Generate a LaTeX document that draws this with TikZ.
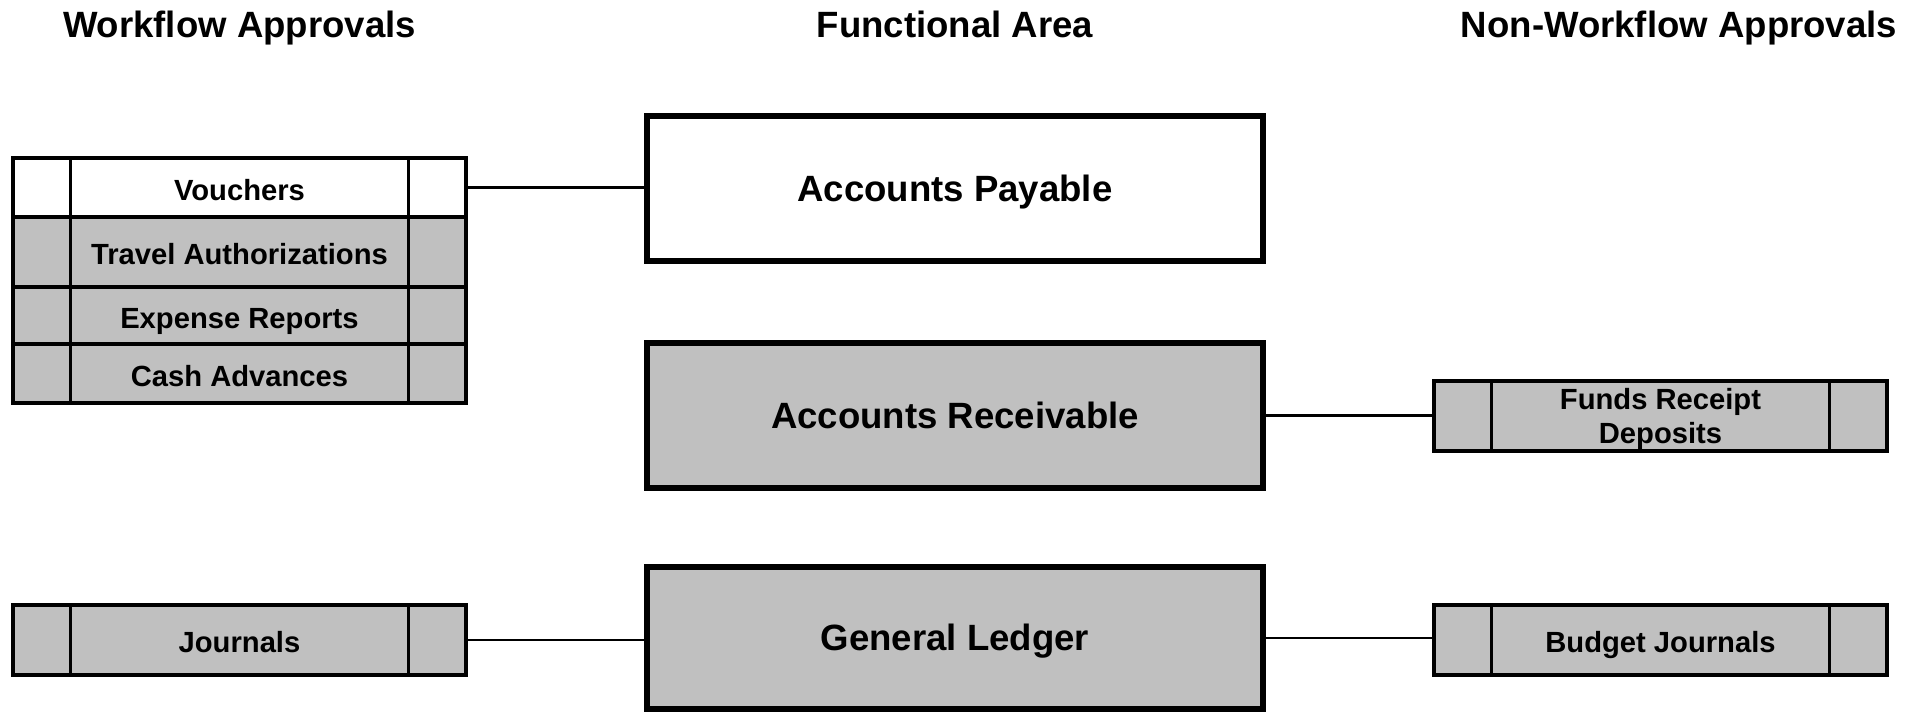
\documentclass[tikz,border=0pt]{standalone}
\usepackage{fontspec}
\setmainfont{Liberation Sans}
\usepackage{xcolor}
\definecolor{boxgray}{HTML}{C0C0C0}
\usetikzlibrary{positioning}

\tikzset{
    heading/.style={font=\fontsize{10.4}{12}\selectfont\bfseries, anchor=base, inner sep=0pt},
    areabox/.style={draw, line width=1.7pt, fill=boxgray, minimum width=6.16cm, minimum height=1.45cm,
        inner sep=0pt, text height=0.72em, text depth=0pt, font=\fontsize{10.4}{12}\selectfont\bfseries},
    apprbox/.style={draw, line width=0.95pt, fill=boxgray, minimum width=4.53cm, minimum height=0.7cm,
        inner sep=0pt, outer sep=0pt, align=center, font=\fontsize{8.3}{9.7}\selectfont\bfseries,
        path picture={
            \draw[line width=0.95pt] ([xshift=0.575cm]path picture bounding box.north west) -- ([xshift=0.575cm]path picture bounding box.south west);
            \draw[line width=0.95pt] ([xshift=-0.575cm]path picture bounding box.north east) -- ([xshift=-0.575cm]path picture bounding box.south east);
        }},
    oneline/.style={text height=0.72em, text depth=0pt},
    conn/.style={line width=0.65pt}
}

\begin{document}
\begin{tikzpicture}[x=0.01cm, y=-0.01cm]
    \useasboundingbox (0,0) rectangle (1921,711);

    % column headings
    \node[heading] (hwf) at (239.5,37) {Workflow Approvals};
    \node[heading] (hfa) at (955,37) {Functional Area};
    \node[heading] (hnwf) at (1679,37) {Non-Workflow Approvals};

    % functional areas
    \node[areabox, fill=white] (ap) at (955,188.5) {Accounts Payable};
    \node[areabox] (ar) at (955,415.5) {Accounts Receivable};
    \node[areabox, minimum height=1.42cm] (gl) at (955,638) {General Ledger};

    % workflow approvals
    \node[apprbox, oneline, fill=white, minimum height=0.59cm] (vouch) at (239.5,187.5) {Vouchers};
    \node[apprbox, oneline, below=0pt of vouch, minimum height=0.70cm] (travel) {Travel Authorizations};
    \node[apprbox, oneline, below=0pt of travel, minimum height=0.57cm] (expense) {Expense Reports};
    \node[apprbox, oneline, below=0pt of expense, minimum height=0.59cm] (cash) {Cash Advances};
    \node[apprbox, oneline] (journ) at (239.5,640) {Journals};

    % non-workflow approvals
    \node[apprbox, text depth=0pt] (funds) at (1660.5,416) {Funds Receipt\\Deposits};
    \node[apprbox, oneline] (budget) at (1660.5,640) {Budget Journals};

    % connectors
    \draw[conn] (vouch.east) -- (vouch.east -| ap.west);
    \draw[conn] (ar.east) -- (ar.east -| funds.west);
    \draw[conn] (journ.east) -- (journ.east -| gl.west);
    \draw[conn] (gl.east) -- (gl.east -| budget.west);
\end{tikzpicture}
\end{document}
